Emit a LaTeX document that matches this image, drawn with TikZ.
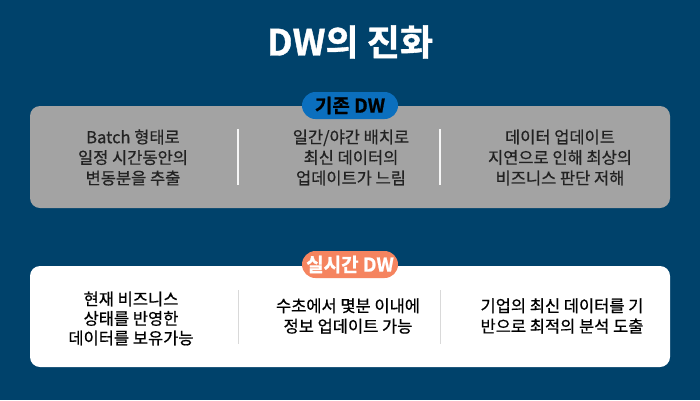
\documentclass[tikz,border=0pt]{standalone}
\usepackage{fontspec}
\setmainfont{Noto Sans CJK KR}
\newfontfamily\krmid{Noto Sans CJK KR}[FakeBold=0.6]
\newfontfamily\krheavy{Noto Sans CJK KR Bold}[FakeBold=1]
\usepackage{tikz}
\usetikzlibrary{positioning}
\definecolor{dwnavy}{HTML}{00426B}
\definecolor{dwgray}{HTML}{A3A3A3}
\definecolor{dwblue}{HTML}{0B6FBE}
\definecolor{dwcoral}{HTML}{F5845F}
\definecolor{dwtext}{HTML}{222222}
\tikzset{
  celltxt/.style={align=center,inner sep=0pt,text=dwtext,font=\krmid\fontsize{16.5}{20.5}\selectfont},
  dwtag/.style={rounded corners=13.5pt,minimum width=96pt,minimum height=27pt,inner sep=0pt,font=\krheavy\fontsize{19}{19}\selectfont}
}

\begin{document}
\begin{tikzpicture}[x=1pt,y=-1pt]%
  \fill[dwnavy](0,0)rectangle(700,400);
  \node[text=white,font=\krheavy\fontsize{36}{36}\selectfont](title)at(350,42){DW의 진화};
  \fill[rounded corners=10pt,dwgray](30,106)rectangle(670,208);
  \fill[rounded corners=10pt,white](30,266)rectangle(670,367);
  \foreach \x in {238,440}{
    \draw[white!90!dwgray,line width=1.2pt](\x,129)--(\x,185);
    \draw[gray!30,line width=1pt](\x,290)--(\x,344);}
  \node[dwtag,fill=dwblue,text=black](oldtag)at(350,105.5){기존 DW};
  \node[dwtag,fill=dwcoral,text=white](rttag)at(350,264.5){실시간 DW};
  \node[celltxt](old1)at(133,157.5){Batch 형태로\\일정 시간동안의\\변동분을 추출};
  \node[celltxt](old2)at(351,157.5){일간/야간 배치로\\최신 데이터의\\업데이트가 느림};
  \node[celltxt](old3)at(560,157.5){데이터 업데이트\\지연으로 인해 최상의\\비즈니스 판단 저해};
  \node[celltxt,text=black,font=\krmid\fontsize{16.5}{19.5}\selectfont](rt1)at(131,318.5){현재 비즈니스\\상태를 반영한\\데이터를 보유가능};
  \node[celltxt,text=black](rt2)at(348,316){수초에서 몇분 이내에\\정보 업데이트 가능};
  \node[celltxt,text=black](rt3)at(562,316){기업의 최신 데이터를 기\\반으로 최적의 분석 도출};
\end{tikzpicture}
\end{document}
